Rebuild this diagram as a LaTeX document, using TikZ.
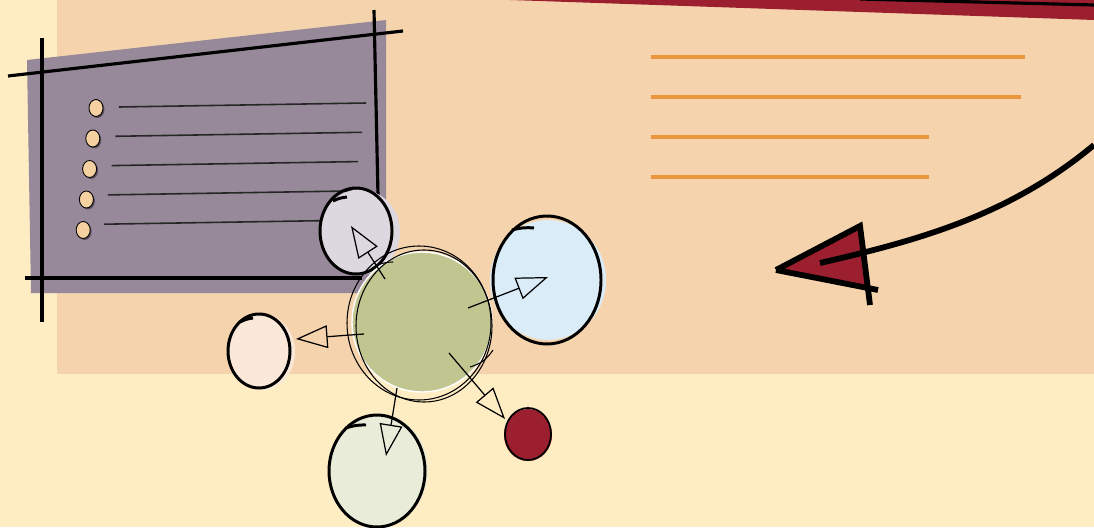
\documentclass[tikz,border=0pt]{standalone}
\usepackage{xcolor}
\usepackage{tikz}
\usetikzlibrary{shapes.geometric, arrows.meta, positioning, calc}
\definecolor{sketchpaper}{HTML}{FEEDC3}
\definecolor{sketchpeach}{HTML}{F5D4AD}
\definecolor{sketchboard}{HTML}{978999}
\definecolor{sketchboarddark}{HTML}{5A4E5C}
\definecolor{sketchdot}{HTML}{F5D1A1}
\definecolor{sketchorange}{HTML}{E9963E}
\definecolor{sketchwine}{HTML}{9B1F2E}
\definecolor{sketchhub}{HTML}{C1C691}
\definecolor{sketchlilac}{HTML}{DDD7DF}
\definecolor{sketchsky}{HTML}{DAECF7}
\definecolor{sketchcream}{HTML}{FAE8D9}
\definecolor{sketchsage}{HTML}{E9ECD8}

\begin{document}
\begin{tikzpicture}[x=0.02cm, y=-0.02cm,
  blob/.style={ellipse, inner sep=0pt},
  rim/.style={line width=1.7pt},
  flow/.style={-{Triangle[open, length=18pt, width=13pt]}, line width=0.7pt},
  frameline/.style={line width=1.8pt},
  noteline/.style={sketchorange, line width=2pt},
  dot/.style={ellipse, inner sep=0pt, minimum width=0.28cm, minimum height=0.34cm, fill=sketchdot, draw=black, line width=0.5pt}
]
\fill[sketchpaper] (0,0) rectangle (1094,527);
\fill[sketchpeach] (57,0) rectangle (1094,374);
\useasboundingbox (0,0) rectangle (1094,527);

\fill[sketchwine] (510,0) -- (1094,0) -- (1094,20) -- cycle;
\draw[line width=1.8pt] (860,-1) -- (1094,5);

\fill[sketchboard] (27,60) -- (386,20) -- (386,293) -- (31,293) -- cycle;
\draw[frameline] (8,76) -- (403,31);
\draw[frameline] (42,38) -- (42,322);
\draw[frameline] (374,10) -- (378,196);
\draw[frameline] (25,278) -- (362,278);
\foreach \i in {0,...,4} {
  \fill[sketchboarddark] (97.5-3.2*\i,109.5+30.5*\i) ellipse [x radius=7, y radius=8.5];
  \node[dot] (dot\i) at (96-3.2*\i,108+30.5*\i) {};
  \draw[line width=0.9pt, black!85] (119-3.7*\i,107+29.3*\i) -- (366-4*\i,103+29.3*\i);
}

\draw[noteline] (651,57) -- (1025,57);
\draw[noteline] (651,97) -- (1021,97);
\draw[noteline] (651,137) -- (929,137);
\draw[noteline] (651,177) -- (929,177);

\fill[sketchwine] (776,270) -- (860,226) -- (866,287) -- cycle;
\draw[line width=3.3pt] (776,270) -- (860,226) -- (870,305);
\draw[line width=3.3pt] (776,270) -- (878,290);
\draw[line width=3.3pt] (1094,145) .. controls (1010,215) and (920,240) .. (820,263);

\node[blob, fill=sketchlilac, minimum width=1.6cm, minimum height=1.7cm] (lilac) at (360,232) {};
\draw[rim] (356,231) ellipse [x radius=36, y radius=43];
\draw[rim] (333,201) to[bend left=10] (347,197);

\node[blob, fill=sketchhub, draw=white, line width=0.8pt, minimum width=2.8cm, minimum height=2.8cm] (hub) at (422,322) {};
\draw[line width=0.6pt] (419,323) ellipse [x radius=72, y radius=77];
\draw[line width=0.6pt] (424,326) ellipse [x radius=68, y radius=76];
\draw[line width=0.6pt] (493,350) to[bend left=20] (470,367);
\draw[line width=0.6pt] (372,268) to[bend left=15] (393,262);

\node[blob, fill=sketchsky, minimum width=2.32cm, minimum height=2.4cm] (sky) at (548,280) {};
\draw[rim] (547,280) ellipse [x radius=54, y radius=64];
\draw[rim] (512,230) to[bend left=10] (534,228);

\node[blob, fill=sketchcream, minimum width=1.32cm, minimum height=1.52cm] (cream) at (262,352) {};
\draw[rim] (259,351) ellipse [x radius=31, y radius=37];
\draw[rim] (240,322) to[bend left=10] (253,318);

\node[blob, fill=sketchsage, minimum width=2cm, minimum height=2.24cm] (sage) at (378,470) {};
\draw[rim] (377,471) ellipse [x radius=48, y radius=56];
\draw[rim] (346,428) to[bend left=10] (366,425);

\node[blob, fill=sketchwine, minimum width=0.96cm, minimum height=1.04cm] (wine) at (528,435) {};
\draw[line width=1pt] (528,434) ellipse [x radius=23, y radius=26];

\coordinate (toLilac) at (351,226);
\coordinate (toSky) at (548,277);
\coordinate (toCream) at (296,339);
\coordinate (toSage) at (386,456);
\coordinate (toWine) at (505,419);
\draw[flow] (385,279) -- (toLilac);
\draw[flow] (468,308) -- (toSky);
\draw[flow] (364,334) -- (toCream);
\draw[flow] (397,388) -- (toSage);
\draw[flow] (449,353) -- (toWine);
\end{tikzpicture}
\end{document}
